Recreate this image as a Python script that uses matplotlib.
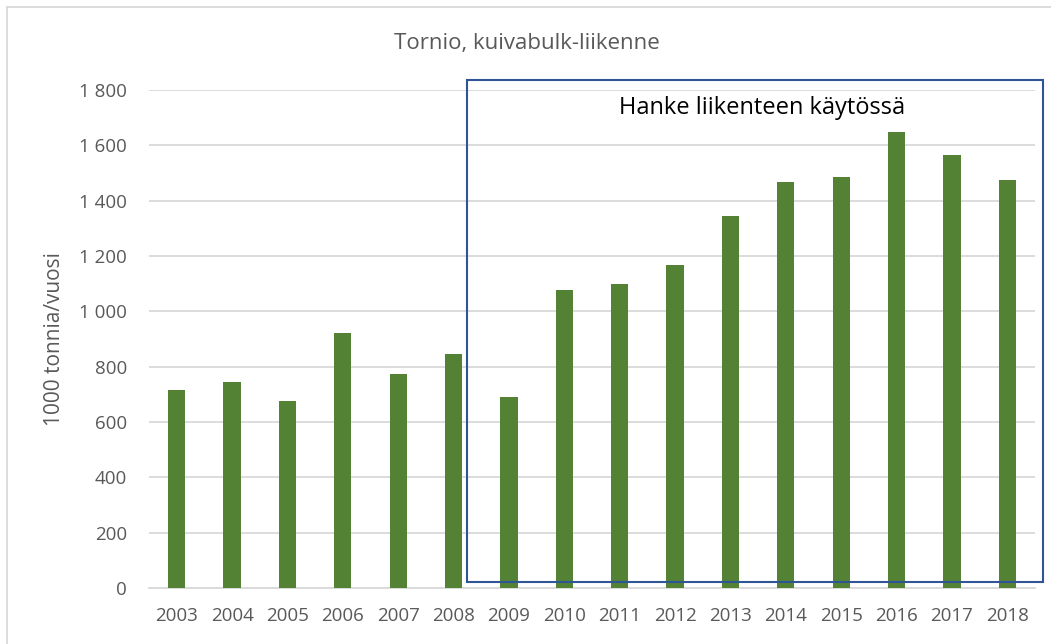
import matplotlib.pyplot as plt
from matplotlib.patches import Rectangle
from matplotlib.ticker import FuncFormatter

# data (1000 tonnes / year)
years = ["2003", "2004", "2005", "2006", "2007", "2008", "2009", "2010",
         "2011", "2012", "2013", "2014", "2015", "2016", "2017", "2018"]
volumes = [715, 745, 675, 920, 775, 847, 690, 1076,
           1098, 1166, 1343, 1466, 1487, 1650, 1564, 1475]

title = "Tornio, kuivabulk-liikenne"
ylabel = "1000 tonnia/vuosi"
box_text = "Hanke liikenteen käytössä"

plt.rcParams["font.family"] = ["Open Sans", "DejaVu Sans"]
grey = "#595959"

fig = plt.figure(figsize=(10.51, 6.44), dpi=100)
ax = fig.add_axes([149 / 1051, 1 - 588 / 644, 886 / 1051, 498 / 644])

x = range(len(years))
ax.bar(x, volumes, width=0.31, color="#548235", zorder=3)

ax.set_xlim(-0.5, len(years) - 0.5)
ax.set_ylim(0, 1800)
ax.set_yticks(range(0, 1801, 200))
ax.yaxis.set_major_formatter(FuncFormatter(lambda v, p: f"{int(v):,}".replace(",", " ")))
ax.set_xticks(list(x))
ax.set_xticklabels(years)

ax.grid(axis="y", color="#d9d9d9", linewidth=1.3, zorder=0)
for side in ["top", "right", "left"]:
    ax.spines[side].set_visible(False)
ax.spines["bottom"].set_color("#d9d9d9")
ax.spines["bottom"].set_linewidth(1.3)
ax.tick_params(axis="both", length=0, colors=grey, labelsize=13.5)
ax.tick_params(axis="x", pad=14)
ax.tick_params(axis="y", pad=16)

ax.set_ylabel(ylabel, color=grey, fontsize=15, labelpad=10)
fig.text(527 / 1051, 1 - 44 / 644, title, ha="center", va="center",
         color=grey, fontsize=16)

# highlight box in figure coordinates
fig.patches.append(Rectangle((467 / 1051, 1 - 582 / 644), (1043 - 467) / 1051,
                             (582 - 80) / 644, transform=fig.transFigure,
                             fill=False, edgecolor="#2f5597", linewidth=1.5, zorder=5))
fig.text(762 / 1051, 1 - 108 / 644, box_text, ha="center", va="center",
         color="black", fontsize=17)

# outer chart border
fig.patches.append(Rectangle((7 / 1051, -0.05), 1.1, 1 - 7 / 644 + 0.05,
                             transform=fig.transFigure, fill=False,
                             edgecolor="#d9d9d9", linewidth=1.3))

fig.savefig("out.png", dpi=100)
